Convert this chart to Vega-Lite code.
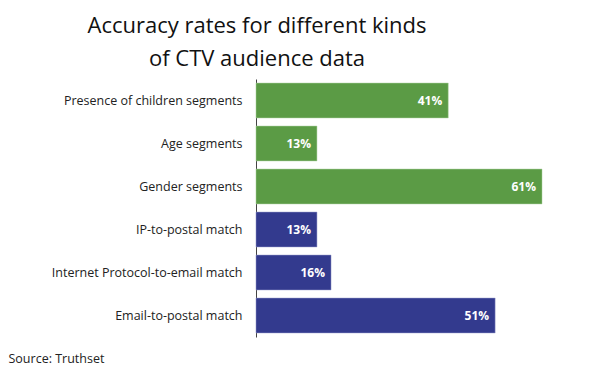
{
  "$schema": "https://vega.github.io/schema/vega-lite/v6.json",
  "autosize": "none",
  "width": 286,
  "height": 258,
  "padding": {"left": 256, "top": 79, "right": 58, "bottom": 38},
  "background": "white",
  "title": {
    "text": ["Accuracy rates for different kinds", "of CTV audience data"],
    "font": "Open Sans",
    "fontSize": 22,
    "fontWeight": "normal",
    "color": "#111111",
    "lineHeight": 33,
    "anchor": "middle",
    "dx": -142,
    "offset": 8
  },
  "config": {
    "view": {"stroke": null},
    "font": "Open Sans"
  },
  "data": {
    "values": [
      {"category": "Presence of children segments", "value": 41, "label": "41%", "group": "segments", "order": 1},
      {"category": "Age segments", "value": 13, "label": "13%", "group": "segments", "order": 2},
      {"category": "Gender segments", "value": 61, "label": "61%", "group": "segments", "order": 3},
      {"category": "IP-to-postal match", "value": 13, "label": "13%", "group": "match", "order": 4},
      {"category": "Internet Protocol-to-email match", "value": 16, "label": "16%", "group": "match", "order": 5},
      {"category": "Email-to-postal match", "value": 51, "label": "51%", "group": "match", "order": 6}
    ]
  },
  "encoding": {
    "y": {
      "field": "category",
      "type": "nominal",
      "sort": {"field": "order"},
      "scale": {"paddingInner": 0.19, "paddingOuter": 0.095},
      "axis": {
        "title": null,
        "ticks": false,
        "tickSize": 0,
        "labelPadding": 14,
        "labelLimit": 260,
        "labelFont": "Open Sans",
        "labelFontSize": 12.5,
        "labelColor": "#222222",
        "domainColor": "#444444",
        "domainWidth": 1
      }
    },
    "x": {
      "field": "value",
      "type": "quantitative",
      "scale": {"domain": [0, 61], "nice": false},
      "axis": {
        "domain": false,
        "ticks": false,
        "labels": false,
        "grid": false,
        "title": "Source: Truthset",
        "titleFont": "Open Sans",
        "titleFontSize": 12.5,
        "titleFontWeight": "normal",
        "titleColor": "#222222",
        "titleAnchor": "start",
        "titleAlign": "left",
        "titleBaseline": "alphabetic",
        "titleX": -248,
        "titleY": 25
      }
    }
  },
  "layer": [
    {
      "mark": {"type": "bar", "strokeWidth": 1, "strokeOpacity": 0.5},
      "encoding": {
        "color": {
          "field": "group",
          "type": "nominal",
          "scale": {"domain": ["segments", "match"], "range": ["#5b9b45", "#333a8e"]},
          "legend": null
        },
        "stroke": {
          "field": "group",
          "type": "nominal",
          "scale": {"domain": ["segments", "match"], "range": ["#a9cf9b", "#8f94c8"]},
          "legend": null
        }
      }
    },
    {
      "mark": {"type": "text", "align": "right", "baseline": "middle", "dx": -6, "fontWeight": "bold", "fontSize": 12, "font": "Open Sans", "color": "white"},
      "encoding": {
        "text": {"field": "label", "type": "nominal"}
      }
    }
  ]
}
